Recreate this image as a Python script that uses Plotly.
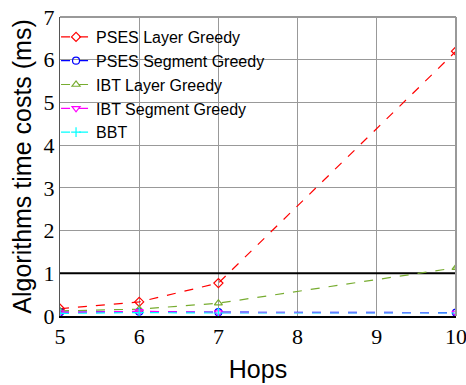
import plotly.graph_objects as go

hops = [5, 6, 7, 10]
pses_layer = [0.17, 0.33, 0.77, 6.2]
pses_segment = [0.09, 0.1, 0.09, 0.08]
ibt_layer = [0.12, 0.16, 0.3, 1.13]
ibt_segment = [0.08, 0.11, 0.08, 0.07]
bbt = [0.06, 0.08, 0.07, 0.07]
ref_x = [5, 10]
ref_y = [1, 1]

series = [
    ("PSES Layer Greedy", pses_layer, "#FF0000", "diamond-open"),
    ("PSES Segment Greedy", pses_segment, "#0000FF", "circle-open"),
    ("IBT Layer Greedy", ibt_layer, "#77AC30", "triangle-up-open"),
    ("IBT Segment Greedy", ibt_segment, "#FF00FF", "triangle-down-open"),
    ("BBT", bbt, "#00FFFF", "cross-thin-open"),
]

SERIF = "Liberation Serif"
SANS = "Liberation Sans"

fig = go.Figure()
fig.add_trace(go.Scatter(x=ref_x, y=ref_y, mode="lines", line=dict(color="black", width=2),
                         showlegend=False, hoverinfo="skip"))
for name, ys, col, sym in series:
    fig.add_trace(go.Scatter(x=hops, y=ys, name=name, mode="lines+markers",
                             line=dict(color=col, width=1.2, dash="dash"),
                             marker=dict(symbol=sym, size=7, color=col, line=dict(color=col, width=1.2))))

fig.update_layout(
    width=466, height=385,
    margin=dict(l=60, r=10, t=17, b=69, autoexpand=False),
    paper_bgcolor="white", plot_bgcolor="white",
    font=dict(family=SERIF, color="black", size=22),
    legend=dict(x=-0.01, y=0.99, xanchor="left", yanchor="top", bgcolor="rgba(0,0,0,0)",
                font=dict(size=16, family=SANS),
                tracegroupgap=0),
    xaxis=dict(range=[5, 10], tickvals=[5, 6, 7, 8, 9, 10], showgrid=True, gridcolor="#999999", gridwidth=1,
               showline=True, linecolor="black", linewidth=1.5, mirror=False, zeroline=False,
               ticks="", ticklabeloverflow="allow", automargin=False,
               title=dict(text="Hops", font=dict(size=25, family=SANS), standoff=12)),
    yaxis=dict(range=[0, 7], tickvals=[0, 1, 2, 3, 4, 5, 6, 7], showgrid=True, gridcolor="#999999", gridwidth=1,
               showline=True, linecolor="#555555", linewidth=1.2, zeroline=False,
               ticks="", ticklabeloverflow="allow", automargin=False,
               title=dict(text="Algorithms time costs (ms)", font=dict(size=25, family=SANS), standoff=4)),
)
fig.add_shape(type="line", xref="paper", yref="paper", x0=0, x1=1, y0=1, y1=1,
              line=dict(color="#999999", width=2))
fig.add_shape(type="line", xref="paper", yref="paper", x0=1, x1=1, y0=0, y1=1,
              line=dict(color="#999999", width=2))
fig.write_html("out.html")
